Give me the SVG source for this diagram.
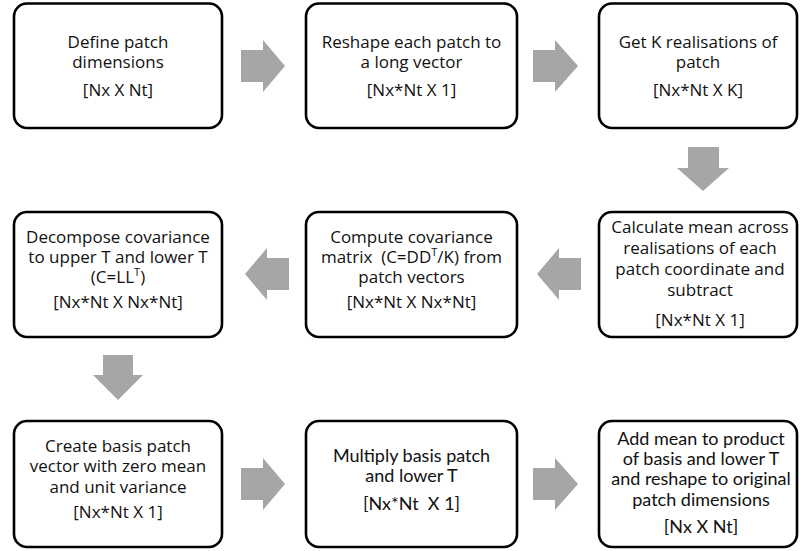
<svg xmlns="http://www.w3.org/2000/svg" width="800" height="551" viewBox="0 0 800 551">
<style>
.box{fill:#fff;stroke:#000;stroke-width:2.6}
.arr{fill:#a6a6a6}
text{font-family:"Open Sans","Noto Sans",sans-serif;font-size:17px;text-anchor:middle;fill:#111}
.c text{font-family:Lato,"Open Sans",sans-serif;font-size:18px}
.sup{font-size:11px}
</style>
<rect width="800" height="551" fill="#fff"/>
<g id="connectors">
<polygon class="arr" points="241,50 263,50 263,40 285,66 263,92 263,82 241,82"/>
<polygon class="arr" points="533,50 555,50 555,40 578,66 555,92 555,82 533,82"/>
<polygon class="arr" points="688,147 719,147 719,168 729,168 703,191 677,168 688,168"/>
<polygon class="arr" points="581,258 559,258 559,248 537,274 559,300 559,290 581,290"/>
<polygon class="arr" points="289,258 267,258 267,248 245,274 267,300 267,290 289,290"/>
<polygon class="arr" points="103,355 133,355 133,375 143,375 118,400 93,375 103,375"/>
<polygon class="arr" points="241,468 263,468 263,458 285,484 263,510 263,500 241,500"/>
<polygon class="arr" points="533,468 555,468 555,458 578,484 555,510 555,500 533,500"/>
</g>
<g id="n1">
<rect class="box" x="14" y="3.5" width="208" height="124.5" rx="13"/>
<text x="118" y="47.5">Define patch</text>
<text x="118" y="67.5">dimensions</text>
<text x="118" y="95.5">[Nx X Nt]</text>
</g>
<g id="n2">
<rect class="box" x="306" y="3.5" width="211" height="124.5" rx="13"/>
<text x="411.5" y="47.5">Reshape each patch to</text>
<text x="411.5" y="67.5">a long vector</text>
<text x="411.5" y="95.5">[Nx*Nt X 1]</text>
</g>
<g id="n3">
<rect class="box" x="599" y="3.5" width="198" height="124.5" rx="13"/>
<text x="698" y="47.5">Get K realisations of</text>
<text x="698" y="67.5">patch</text>
<text x="698" y="95.5">[Nx*Nt X K]</text>
</g>
<g id="n6">
<rect class="box" x="599" y="212" width="198" height="125" rx="13"/>
<text x="700" y="233">Calculate mean across</text>
<text x="700" y="254">realisations of each</text>
<text x="700" y="275">patch coordinate and</text>
<text x="700" y="296">subtract</text>
<text x="700" y="326">[Nx*Nt X 1]</text>
</g>
<g id="n5">
<rect class="box" x="306" y="212" width="211" height="125" rx="13"/>
<text x="411.5" y="243">Compute covariance</text>
<text x="411.5" y="263">matrix&#160; (C=DD<tspan class="sup" dy="-7">T</tspan><tspan dy="7">/K) from</tspan></text>
<text x="411.5" y="283">patch vectors</text>
<text x="411.5" y="308">[Nx*Nt X Nx*Nt]</text>
</g>
<g id="n4">
<rect class="box" x="14" y="212" width="208" height="125" rx="13"/>
<text x="118" y="243">Decompose covariance</text>
<text x="118" y="263">to upper T and lower T</text>
<text x="118" y="283">(C=LL<tspan class="sup" dy="-7">T</tspan><tspan dy="7">)</tspan></text>
<text x="118" y="308">[Nx*Nt X Nx*Nt]</text>
</g>
<g id="n7">
<rect class="box" x="14" y="421" width="208" height="126" rx="13"/>
<text x="118" y="452">Create basis patch</text>
<text x="118" y="472">vector with zero mean</text>
<text x="118" y="493">and unit variance</text>
<text x="118" y="518">[Nx*Nt X 1]</text>
</g>
<g id="n8" class="c">
<rect class="box" x="306" y="421" width="211" height="126" rx="13"/>
<text x="411.5" y="462">Multiply basis patch</text>
<text x="411.5" y="482">and lower T</text>
<text x="411.5" y="510">[Nx*Nt&#160; X 1]</text>
</g>
<g id="n9" class="c">
<rect class="box" x="599" y="421" width="198" height="126" rx="13"/>
<text x="701" y="445">Add mean to product</text>
<text x="701" y="465">of basis and lower T</text>
<text x="701" y="485">and reshape to original</text>
<text x="701" y="506">patch dimensions</text>
<text x="701" y="533">[Nx X Nt]</text>
</g>
</svg>
